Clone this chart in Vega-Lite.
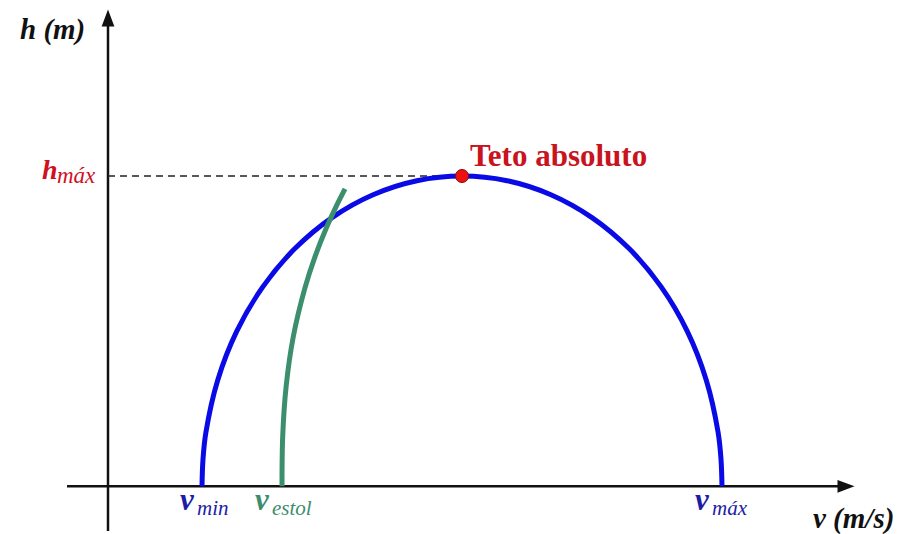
{
  "$schema": "https://vega.github.io/schema/vega-lite/v6.json",
  "width": 916,
  "height": 534,
  "autosize": {"type": "fit", "contains": "padding"},
  "padding": 0,
  "background": "white",
  "config": {"view": {"stroke": null}},
  "datasets": {
    "axes": [
      {"v": -41, "v2": 742, "h": 0, "h2": 0},
      {"v": 0, "v2": 0, "h": -45, "h2": 466}
    ],
    "arrowY": [{"v": 0, "h": 471}],
    "arrowX": [{"v": 738, "h": 0}],
    "ceiling": [{"v": 0, "v2": 354, "h": 312, "h2": 312}],
    "peak": [{"v": 354, "h": 312}],
    "envelope": [
      {"v": 94, "h": 0}, {"v": 95, "h": 27.2}, {"v": 97.9, "h": 54.2}, {"v": 109.7, "h": 106.7},
      {"v": 128.8, "h": 156}, {"v": 154.8, "h": 200.5}, {"v": 186.9, "h": 239},
      {"v": 224, "h": 270.2}, {"v": 265.1, "h": 293.2}, {"v": 308.9, "h": 307.3},
      {"v": 354, "h": 312}, {"v": 399.1, "h": 307.3}, {"v": 442.9, "h": 293.2},
      {"v": 484, "h": 270.2}, {"v": 521.1, "h": 239}, {"v": 553.2, "h": 200.5},
      {"v": 579.2, "h": 156}, {"v": 598.3, "h": 106.7}, {"v": 610.1, "h": 54.2},
      {"v": 613, "h": 27.2}, {"v": 614, "h": 0}
    ],
    "stall": [
      {"v": 174, "h": 0}, {"v": 174.7, "h": 50}, {"v": 178.1, "h": 100}, {"v": 185.2, "h": 150},
      {"v": 197.1, "h": 200}, {"v": 206.7, "h": 230}, {"v": 218.4, "h": 260},
      {"v": 227.5, "h": 280}, {"v": 237, "h": 299}
    ],
    "axisTitles": [
      {"v": -88, "h": 459, "label": "h (m)"},
      {"v": 705, "h": -33, "label": "v (m/s)"}
    ],
    "hmax": [{"v": -66, "h": 309, "label": "h"}],
    "hmaxSub": [{"v": -51, "h": 305, "label": "máx"}],
    "vBlue": [{"v": 72, "h": -24, "label": "v"}, {"v": 587, "h": -24, "label": "v"}],
    "vBlueSub": [{"v": 89, "h": -29, "label": "min"}, {"v": 604, "h": -29, "label": "máx"}],
    "vGreen": [{"v": 147, "h": -24, "label": "v"}],
    "vGreenSub": [{"v": 164, "h": -29, "label": "estol"}],
    "teto": [{"v": 362, "h": 331, "label": "Teto absoluto"}]
  },
  "encoding": {
    "x": {"field": "v", "type": "quantitative", "scale": {"domain": [-108, 808], "nice": false, "zero": false}, "axis": null},
    "y": {"field": "h", "type": "quantitative", "scale": {"domain": [-45, 489], "nice": false, "zero": false}, "axis": null}
  },
  "layer": [
    {
      "data": {"name": "axes"},
      "mark": {"type": "rule", "color": "#111111", "strokeWidth": 2.5},
      "encoding": {"x2": {"field": "v2"}, "y2": {"field": "h2"}}
    },
    {
      "data": {"name": "arrowY"},
      "mark": {"type": "point", "shape": "M0,-1L0.75,1L-0.75,1Z", "filled": true, "color": "#111111", "size": 289, "opacity": 1},
      "encoding": {}
    },
    {
      "data": {"name": "arrowX"},
      "mark": {"type": "point", "shape": "M1,0L-1,0.75L-1,-0.75Z", "filled": true, "color": "#111111", "size": 289, "opacity": 1},
      "encoding": {}
    },
    {
      "data": {"name": "ceiling"},
      "mark": {"type": "rule", "color": "#222222", "strokeWidth": 1.5, "strokeDash": [7, 5]},
      "encoding": {"x2": {"field": "v2"}, "y2": {"field": "h2"}}
    },
    {
      "data": {"name": "envelope"},
      "mark": {"type": "line", "color": "#0a0ae6", "strokeWidth": 5, "interpolate": "catmull-rom"},
      "encoding": {}
    },
    {
      "data": {"name": "stall"},
      "mark": {"type": "line", "color": "#3b8f6c", "strokeWidth": 5, "interpolate": "catmull-rom"},
      "encoding": {}
    },
    {
      "data": {"name": "peak"},
      "mark": {"type": "point", "shape": "circle", "filled": true, "color": "#ee1111", "stroke": "#8a0a0a", "strokeWidth": 1, "size": 170, "opacity": 1},
      "encoding": {}
    },
    {
      "data": {"name": "axisTitles"},
      "mark": {"type": "text", "align": "left", "baseline": "middle", "font": "Liberation Serif", "fontStyle": "italic", "fontWeight": "bold", "fontSize": 29, "color": "#111111"},
      "encoding": {"text": {"field": "label"}}
    },
    {
      "data": {"name": "hmax"},
      "mark": {"type": "text", "align": "left", "baseline": "alphabetic", "font": "Liberation Serif", "fontStyle": "italic", "fontWeight": "bold", "fontSize": 28, "color": "#d0101e"},
      "encoding": {"text": {"field": "label"}}
    },
    {
      "data": {"name": "hmaxSub"},
      "mark": {"type": "text", "align": "left", "baseline": "alphabetic", "font": "Liberation Serif", "fontStyle": "italic", "fontSize": 23, "color": "#d0101e"},
      "encoding": {"text": {"field": "label"}}
    },
    {
      "data": {"name": "vBlue"},
      "mark": {"type": "text", "align": "left", "baseline": "alphabetic", "font": "Liberation Serif", "fontStyle": "italic", "fontWeight": "bold", "fontSize": 31, "color": "#1c1ca6"},
      "encoding": {"text": {"field": "label"}}
    },
    {
      "data": {"name": "vBlueSub"},
      "mark": {"type": "text", "align": "left", "baseline": "alphabetic", "font": "Liberation Serif", "fontStyle": "italic", "fontSize": 21, "color": "#1c1ca6"},
      "encoding": {"text": {"field": "label"}}
    },
    {
      "data": {"name": "vGreen"},
      "mark": {"type": "text", "align": "left", "baseline": "alphabetic", "font": "Liberation Serif", "fontStyle": "italic", "fontWeight": "bold", "fontSize": 31, "color": "#3d8c6e"},
      "encoding": {"text": {"field": "label"}}
    },
    {
      "data": {"name": "vGreenSub"},
      "mark": {"type": "text", "align": "left", "baseline": "alphabetic", "font": "Liberation Serif", "fontStyle": "italic", "fontSize": 21, "color": "#3d8c6e"},
      "encoding": {"text": {"field": "label"}}
    },
    {
      "data": {"name": "teto"},
      "mark": {"type": "text", "align": "left", "baseline": "middle", "font": "Liberation Serif", "fontWeight": "bold", "fontSize": 31, "color": "#c8141e"},
      "encoding": {"text": {"field": "label"}}
    }
  ]
}
